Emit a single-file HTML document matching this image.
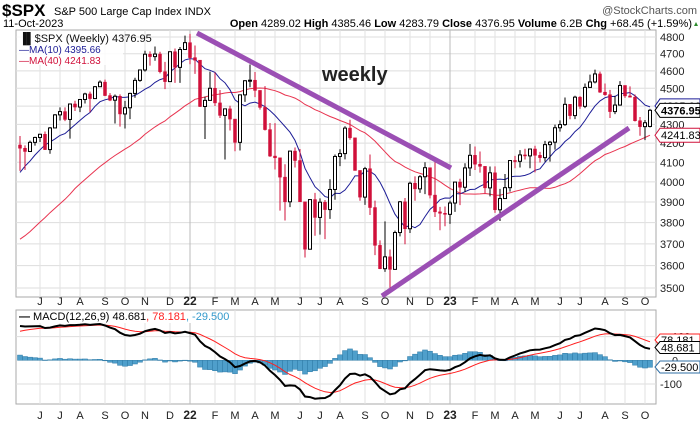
<!DOCTYPE html>
<html><head><meta charset="utf-8">
<style>
body{margin:0;background:#fff;width:700px;height:421px;overflow:hidden;font-family:"Liberation Sans",sans-serif}
svg text{font-family:"Liberation Sans",sans-serif}
</style></head>
<body>
<svg id="chart" width="700" height="421" xmlns="http://www.w3.org/2000/svg">
<defs><clipPath id="mclip"><rect x="16" y="310" width="640" height="94"/></clipPath></defs>
<text x="2" y="16" font-size="17" font-weight="bold">$SPX</text>
<text x="54" y="15" font-size="11">S&amp;P 500 Large Cap Index  INDX</text>
<text x="697" y="14" font-size="11" fill="#555" text-anchor="end">@StockCharts.com</text>
<text x="3" y="27" font-size="11">11-Oct-2023</text>
<text x="692" y="27" font-size="11" text-anchor="end"><tspan font-weight="bold">Open</tspan> 4289.02 <tspan font-weight="bold">High</tspan> 4385.46 <tspan font-weight="bold">Low</tspan> 4283.79 <tspan font-weight="bold">Close</tspan> 4376.95 <tspan font-weight="bold">Volume</tspan> 6.2B <tspan font-weight="bold">Chg</tspan> +68.45 (+1.59%)</text>
<polygon points="694,26 698,26 696,22" fill="#2a8a2a"/>
<g id="price"></g>
<g id="macd"></g>
</svg>
<script>
const preCloses=[3508,3426,3341,3319,3298,3348,3477,3483,3465,3400,3270,3510,3585,3557,3638,3638,3699,3663,3709,3703,3727,3824,3768,3841,3714,3887,3935,3907,3934,3811,3841,3943,3913,3974,3913,4128,4185,4180,4232];
const closes=[4173,4156,4204,4230,4247,4166,4281,4352,4370,4327,4412,4395,4437,4468,4442,4509,4535,4459,4433,4455,4357,4391,4471,4545,4605,4697,4683,4698,4595,4538,4712,4620,4725,4766,
4677,4662,4398,4432,4500,4418,4349,4385,4329,4204,4463,4543,4546,4488,4393,4272,4132,4123,4024,3901,4158,4109,3901,3675,3912,3825,3899,3863,3962,4130,4145,4280,4228,4058,3924,4067,3873,3693,3586,3640,3583,3753,3901,3771,3993,3965,4026,4072,3934,3852,3845,3840,
3895,3999,3973,4071,4136,4090,4079,3970,4046,3862,3917,3971,4109,4105,4138,4133,4169,4136,4124,4192,4205,4282,4299,4410,4348,4450,4399,4505,4536,4582,4478,4464,4370,4406,4516,4457,4450,4320,4288,4309,4377];
const highs=[4238,4188,4213,4234,4249,4262,4286,4356,4393,4393,4415,4430,4440,4475,4481,4513,4545,4549,4473,4465,4466,4429,4475,4560,4608,4718,4714,4743,4712,4652,4713,4731,4740,4808,
4819,4749,4632,4453,4595,4590,4490,4385,4402,4300,4465,4546,4637,4593,4471,4512,4308,4307,4081,4090,4159,4177,4169,3837,3913,3945,3918,3910,4013,4140,4168,4290,4325,4204,4041,4076,4140,3907,3716,3806,3674,3762,3905,3920,4001,4028,4034,4100,4052,4101,3876,3878,
3906,3999,4016,4095,4195,4182,4156,4050,4078,4079,3965,4040,4110,4133,4163,4170,4170,4186,4154,4212,4212,4299,4322,4448,4400,4458,4456,4527,4578,4607,4595,4527,4491,4458,4541,4513,4511,4465,4340,4324,4385];
const lows=[4056,4061,4155,4187,4206,4164,4144,4286,4321,4318,4224,4373,4367,4415,4367,4444,4513,4456,4428,4305,4288,4278,4329,4447,4537,4595,4630,4659,4585,4495,4539,4531,4531,4725,
4638,4582,4395,4222,4434,4401,4335,4114,4267,4157,4161,4424,4506,4450,4381,4267,4128,4063,3858,3810,3875,4073,3900,3637,3705,3738,3743,3722,3818,3911,4080,4115,4218,4057,3906,3886,3837,3648,3584,3572,3491,3590,3735,3698,3751,3906,3945,3939,3918,3827,3764,3783,
3794,3852,3885,3949,4030,4060,4047,3943,3928,3847,3808,3937,3951,4069,4073,4114,4069,4048,4099,4103,4103,4166,4261,4292,4328,4329,4385,4389,4503,4528,4474,4458,4335,4356,4403,4446,4449,4316,4239,4216,4284];
const firstOpen=4190, lastOpen=4289;
const priceTicks=[3500,3600,3700,3800,3900,4000,4100,4200,4300,4400,4500,4600,4700,4800];
const macdTicks=[100,0,-100];
const monthLetters=["J","F","M","A","M","J","J","A","S","O","N","D"];

const NS="http://www.w3.org/2000/svg";
function mk(tag,attrs,parent,text){const e=document.createElementNS(NS,tag);for(const k in attrs)e.setAttribute(k,attrs[k]);if(text!=null)e.textContent=text;parent.appendChild(e);return e;}
const X0=20,DX=5,PL=16,PR=656,PT=30,PB=297,MT=310,MB=404;
const xOf=i=>X0+i*DX;
const LN=Math.log(4800/3500);
const yP=p=>37+251*Math.log(4800/p)/LN;
const yM=v=>360.3-v*0.237;
const P=document.getElementById('price'),M=document.getElementById('macd');

const pf=mk('rect',{x:PL,y:PT,width:PR-PL,height:PB-PT,fill:'#fff',stroke:'#aaa'},P);

const mf=mk('rect',{x:PL,y:MT,width:PR-PL,height:MB-MT,fill:'#fff',stroke:'#aaa'},M);


priceTicks.forEach(t=>{const y=yP(t);
 const g=mk('line',{x1:PL,x2:PR,y1:y,y2:y,stroke:'#ddd'},P);
 const l=mk('text',{x:660,y:y+4,'font-size':11,fill:'#222'},P,t);});
macdTicks.forEach(t=>{const y=yM(t);
 if(t!==0){const g=mk('line',{x1:PL,x2:PR,y1:y,y2:y,stroke:'#ddd'},M);}
 const l=mk('text',{x:t<0?660:672,y:y+4,'font-size':11,fill:'#222'},M,t);});

const start=new Date(2021,4,10);let prevM=start.getMonth();
for(let i=1;i<closes.length;i++){const d=new Date(start.getTime()+i*7*864e5);const m=d.getMonth();
 if(m!==prevM){const x=xOf(i);const lab=m===0?String(d.getFullYear()).slice(2):monthLetters[m];
  [[PT,PB,301,P],[MT,MB,415,M]].forEach(([a,b,ty,par])=>{
   const g=mk('line',{x1:x,x2:x,y1:a,y2:b,stroke:m===0?'#bbb':'#e2e2e2'},par);
   const t=mk('text',{x:x,y:ty+4,'font-size':m===0?12:11,'font-weight':m===0?'bold':'normal','text-anchor':'middle',fill:'#222'},par,lab);});
 }prevM=m;}

const all=preCloses.concat(closes),off=preCloses.length;
function sma(n){return closes.map((c,i)=>{let s=0;for(let k=0;k<n;k++)s+=all[off+i-k];return s/n;});}
function pathOf(vals,yf){return vals.map((v,i)=>(i?'L':'M')+xOf(i)+','+yf(v).toFixed(1)).join('');}
const ma40=sma(40),ma10=sma(10);
const p40=mk('path',{d:pathOf(ma40,yP),fill:'none',stroke:'#e8334f','stroke-width':1},P);
const p10=mk('path',{d:pathOf(ma10,yP),fill:'none',stroke:'#1c1c96','stroke-width':1},P);

closes.forEach((c,i)=>{const o=i===closes.length-1?lastOpen:(i?closes[i-1]:firstOpen);const x=xOf(i);const up=c>=o;const col=up?'#000':'#d0103a';
 const w=mk('line',{x1:x,x2:x,y1:yP(highs[i]),y2:yP(lows[i]),stroke:col},P);
 const yt=yP(Math.max(o,c)),yb=yP(Math.min(o,c));
 const b=mk('rect',{x:x-1.5,y:yt,width:3,height:Math.max(1,yb-yt),fill:up?'#fff':col,stroke:col,'stroke-width':up?1:0.5},P);});

const t1=mk('line',{x1:197,y1:33,x2:451,y2:168,stroke:'#9b4fb4','stroke-width':5},P);
const t2=mk('line',{x1:382,y1:296,x2:629,y2:128,stroke:'#9b4fb4','stroke-width':5},P);
const wk=mk('text',{x:322,y:81,'font-size':20,'font-weight':'bold',fill:'#222'},P,'weekly');

const lg=mk('rect',{x:17,y:31,width:106,height:34,fill:'#fff',opacity:0.85},P);
const l1=mk('text',{x:19,y:42,'font-size':11,fill:'#111','font-family':'Liberation Mono'},P,'\u2590\u258C$SPX (Weekly) 4376.95');
const l2=mk('text',{x:19,y:53,'font-size':10,fill:'#1c1c96'},P,'\u2014MA(10) 4395.66');
const l3=mk('text',{x:19,y:64,'font-size':10,fill:'#d0103a'},P,'\u2014MA(40) 4241.83');

function tag(y,txt,col,bold,name){const g=mk('g',{},P);
 mk('polygon',{points:`655,${y} 660,${y-7} 700,${y-7} 700,${y+7} 660,${y+7}`,fill:'#fff',stroke:col},g);
 mk('text',{x:661,y:y+4,'font-size':11,'font-weight':bold?'bold':'normal',fill:'#000'},g,txt);}
tag(yP(ma10[ma10.length-1])-1,'4395.66','#1c1c96',false,'ma10-value-tag');
tag(yP(4376.95),'4376.95','#000',true,'close-value-tag');
tag(yP(ma40[ma40.length-1]),'4241.83','#d0103a',false,'ma40-value-tag');

function ema(arr,n){const k=2/(n+1);const r=[];let e=arr[0];arr.forEach((v,i)=>{e=i?v*k+e*(1-k):v;r.push(e);});return r;}
const e12=ema(all,12),e26=ema(all,26);const macdAll=e12.map((v,i)=>v-e26[i]);const sigAll=ema(macdAll,9);
const macd=macdAll.slice(off),sig=sigAll.slice(off),hist=macd.map((v,i)=>v-sig[i]);
const MG=mk('g',{'clip-path':'url(#mclip)'},M);


hist.forEach((h,i)=>{const y0=yM(0),y1=yM(h);const r=mk('rect',{x:xOf(i)-2.5,y:Math.min(y0,y1),width:5,height:Math.max(0.5,Math.abs(y1-y0)),fill:'#4f9fcb',stroke:'#2f7aa6','stroke-width':0.5},MG);
 });
const sl=mk('path',{d:pathOf(sig,yM),fill:'none',stroke:'#ff2020','stroke-width':1},MG);
const ml=mk('path',{d:pathOf(macd,yM),fill:'none',stroke:'#000','stroke-width':2},MG);
const mlb=mk('rect',{x:17,y:311,width:195,height:12,fill:'#fff'},M);
const mlg=mk('text',{x:19,y:320,'font-size':11},M);
mlg.innerHTML='<tspan font-weight="bold">\u2014</tspan> MACD(12,26,9) 48.681<tspan fill="#ff2020">, 78.181</tspan><tspan fill="#3399cc">, -29.500</tspan>';
function mtag(y,txt,col,name){const g=mk('g',{},M);
 mk('polygon',{points:`655,${y} 660,${y-6} 700,${y-6} 700,${y+6} 660,${y+6}`,fill:'#fff',stroke:col},g);
 mk('text',{x:661,y:y+4,'font-size':11,fill:'#000'},g,txt);}
mtag(340,'78.181','#ff2020','signal-value-tag');mtag(347.5,'48.681','#000','macd-value-tag');mtag(367,'-29.500','#2f6fa6','histogram-value-tag');
</script>
</body></html>
